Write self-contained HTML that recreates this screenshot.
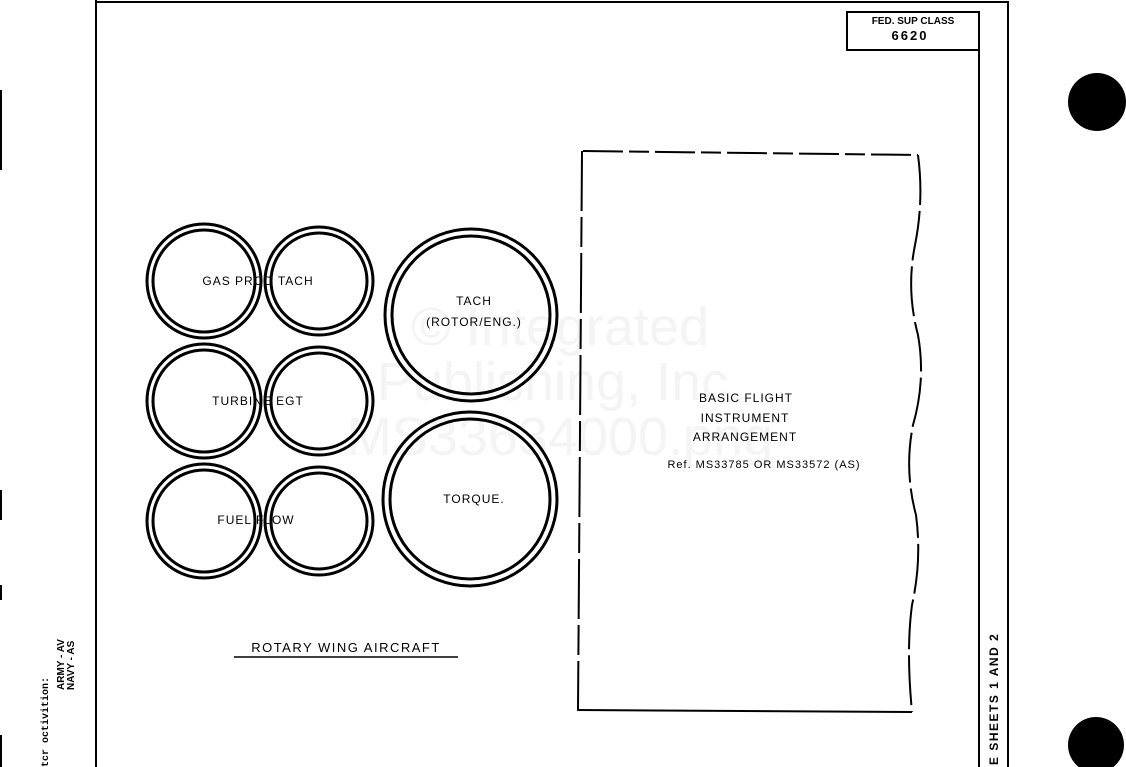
<!DOCTYPE html>
<html><head><style>
body{margin:0;background:#fff;width:1126px;height:767px;overflow:hidden}
svg{display:block}
</style></head><body>
<svg width="1126" height="767" viewBox="0 0 1126 767">
<g font-size="54" text-anchor="middle" font-family="Liberation Sans,sans-serif" fill="#f4f4f4">
<text x="560" y="345">© Integrated</text>
<text x="560" y="400">Publishing, Inc.</text>
<text x="560" y="455">MS33634000.png</text>
</g>
<g stroke="#000" fill="none">
<line x1="96" y1="0" x2="96" y2="767" stroke-width="2"/>
<line x1="95" y1="2" x2="1009" y2="2" stroke-width="2"/>
<line x1="979" y1="12" x2="979" y2="767" stroke-width="2"/>
<line x1="1008" y1="2" x2="1008" y2="767" stroke-width="2"/>
<rect x="847" y="12" width="132" height="38" stroke-width="2"/>
<line x1="1" y1="90" x2="1" y2="170" stroke-width="2"/>
<line x1="1" y1="490" x2="1" y2="520" stroke-width="2"/>
<line x1="1" y1="585" x2="1" y2="600" stroke-width="2"/>
<line x1="1" y1="735" x2="1" y2="767" stroke-width="2"/>
<g stroke-width="3">
<circle cx="204" cy="281" r="57"/><circle cx="204" cy="281" r="51"/>
<circle cx="319" cy="281" r="54"/><circle cx="319" cy="281" r="48"/>
<circle cx="204" cy="401" r="57"/><circle cx="204" cy="401" r="51"/>
<circle cx="319" cy="401" r="54"/><circle cx="319" cy="401" r="48"/>
<circle cx="204" cy="521" r="57"/><circle cx="204" cy="521" r="51"/>
<circle cx="319" cy="521" r="54"/><circle cx="319" cy="521" r="48"/>
<circle cx="471" cy="315" r="86"/><circle cx="471" cy="315" r="79"/>
<circle cx="470" cy="499" r="87"/><circle cx="470" cy="499" r="80"/>
</g>
<g stroke-width="2">
<line x1="583" y1="151" x2="918" y2="155" stroke-dasharray="40,6,20,6"/>
<line x1="582" y1="151" x2="578" y2="710" stroke-dasharray="60,6,30,6"/>
<line x1="577" y1="710" x2="912" y2="712"/>
<path d="M918 155 Q924 200 915 245 Q906 290 918 335 Q926 380 913 425 Q904 470 916 515 Q922 560 912 605 Q906 650 912 712" stroke-dasharray="50,6"/>
</g>
<line x1="234" y1="657" x2="458" y2="657" stroke-width="1.5"/>
</g>
<circle cx="1097" cy="102" r="29" fill="#000"/>
<circle cx="1096" cy="745" r="28" fill="#000"/>
<g font-size="12" text-anchor="middle" font-family="Liberation Sans,sans-serif" fill="#000">
<text x="913" y="24" font-size="10" font-weight="bold">FED. SUP CLASS</text>
<text x="910" y="40" font-size="13" font-weight="bold" letter-spacing="2">6620</text>
<text x="258" y="285" letter-spacing="1">GAS  PROD  TACH</text>
<text x="258" y="405" letter-spacing="1">TURBINE  EGT</text>
<text x="256" y="524" letter-spacing="1">FUEL  FLOW</text>
<text x="474" y="305" letter-spacing="1">TACH</text>
<text x="474" y="326" letter-spacing="1">(ROTOR/ENG.)</text>
<text x="474" y="503" letter-spacing="1">TORQUE.</text>
<text x="746" y="402" letter-spacing="1">BASIC  FLIGHT</text>
<text x="745" y="422" letter-spacing="1">INSTRUMENT</text>
<text x="745" y="441" letter-spacing="1">ARRANGEMENT</text>
<text x="764" y="468" font-size="11" letter-spacing="1">Ref.  MS33785  OR  MS33572  (AS)</text>
<text x="346" y="652" font-size="13" letter-spacing="1.5">ROTARY  WING  AIRCRAFT</text>
</g>
<g font-size="10" font-weight="bold" font-family="Liberation Mono,monospace" fill="#000">
<text transform="translate(48,767) rotate(-90)">tcr octivition:</text>
<text transform="translate(64,690) rotate(-90)" font-family="Liberation Sans,sans-serif">ARMY - AV</text>
<text transform="translate(74,690) rotate(-90)" font-family="Liberation Sans,sans-serif">NAVY - AS</text>
<text transform="translate(998,765) rotate(-90)" font-size="12" font-family="Liberation Sans,sans-serif" letter-spacing="1.5">E SHEETS 1 AND 2</text>
</g>
</svg>
</body></html>
